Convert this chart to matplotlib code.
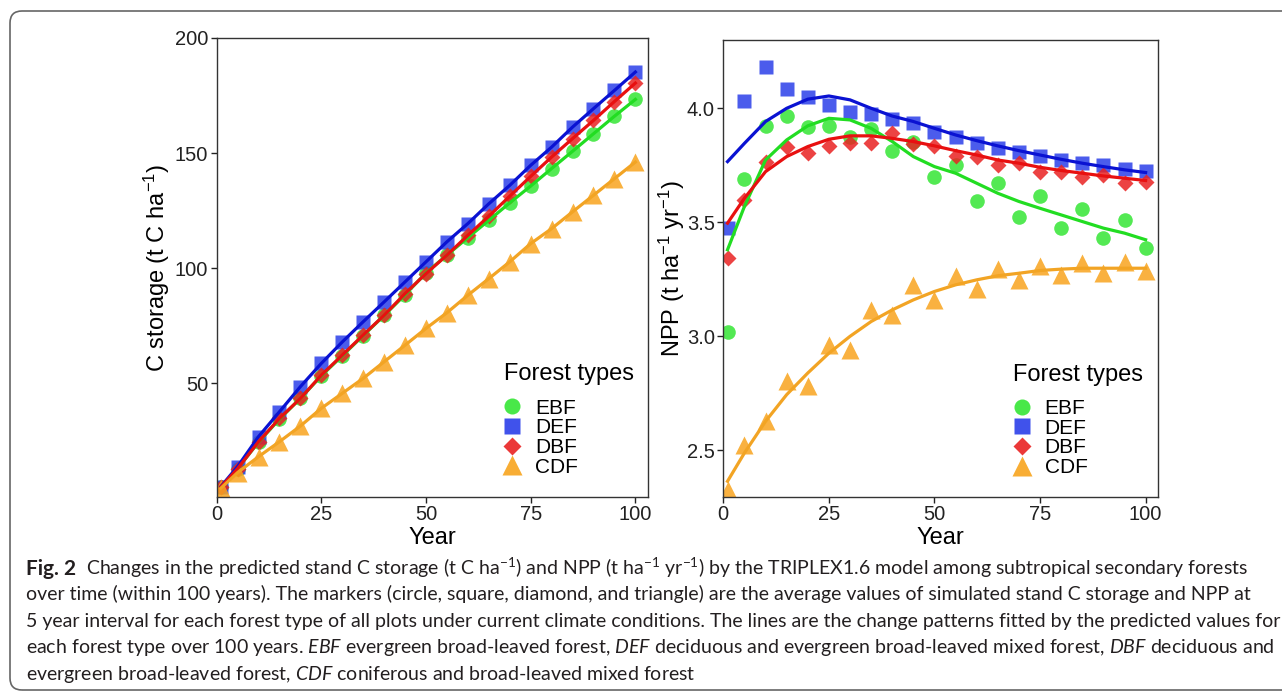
import matplotlib
matplotlib.use('Agg')
import matplotlib.pyplot as plt
from matplotlib.patches import FancyBboxPatch
from matplotlib.transforms import IdentityTransform

# ---- data ----
years = [1, 5, 10, 15, 20, 25, 30, 35, 40, 45, 50, 55, 60, 65, 70, 75, 80, 85, 90, 95, 100]
forest_types = ['EBF', 'DEF', 'DBF', 'CDF']

# stand C storage (t C ha-1)
c_ebf = [5.0, 13.0, 24.5, 34.5, 43.5, 53.3, 62.0, 70.8, 79.5, 88.5, 98.0, 105.7, 113.3,
         120.8, 128.4, 135.7, 143.3, 150.8, 158.4, 166.0, 173.3]
c_def = [5.2, 13.9, 26.9, 37.7, 48.6, 58.7, 68.0, 76.8, 85.4, 94.1, 102.8, 111.5, 119.4,
         128.0, 136.0, 144.7, 152.6, 161.3, 169.3, 177.2, 185.2]
c_dbf = [5.0, 13.0, 24.7, 34.8, 43.5, 53.6, 62.3, 71.0, 79.6, 89.0, 97.7, 105.7, 114.3,
         122.6, 131.3, 139.9, 148.3, 156.3, 164.2, 172.4, 180.4]
c_cdf = [4.5, 11.3, 18.2, 24.7, 31.5, 39.2, 45.7, 52.2, 59.4, 66.6, 73.9, 80.7, 88.3,
         95.5, 102.8, 110.7, 117.2, 124.5, 131.7, 138.9, 146.1]

# NPP (t ha-1 yr-1), simulated averages
npp_ebf = [3.016, 3.69, 3.923, 3.966, 3.917, 3.923, 3.876, 3.908, 3.813, 3.85, 3.697,
           3.751, 3.594, 3.674, 3.525, 3.613, 3.474, 3.558, 3.43, 3.51, 3.386]
npp_def = [3.474, 4.032, 4.18, 4.083, 4.048, 4.015, 3.985, 3.975, 3.952, 3.937, 3.898,
           3.873, 3.846, 3.825, 3.81, 3.79, 3.773, 3.759, 3.749, 3.734, 3.725]
npp_dbf = [3.342, 3.598, 3.766, 3.829, 3.803, 3.835, 3.849, 3.846, 3.89, 3.843, 3.835,
           3.791, 3.788, 3.751, 3.759, 3.722, 3.722, 3.70, 3.708, 3.671, 3.678]
npp_cdf = [2.326, 2.523, 2.626, 2.801, 2.779, 2.962, 2.94, 3.113, 3.094, 3.225, 3.159,
           3.262, 3.206, 3.294, 3.247, 3.306, 3.269, 3.323, 3.276, 3.327, 3.284]

# NPP fitted curves
fit_ebf = [3.379, 3.569, 3.773, 3.861, 3.923, 3.956, 3.949, 3.912, 3.854, 3.788, 3.744,
           3.715, 3.671, 3.627, 3.591, 3.561, 3.532, 3.503, 3.474, 3.452, 3.423]
fit_def = [3.766, 3.846, 3.942, 4.0, 4.04, 4.054, 4.037, 4.0, 3.966, 3.942, 3.912,
           3.883, 3.858, 3.835, 3.814, 3.795, 3.776, 3.759, 3.744, 3.73, 3.718]
fit_dbf = [3.496, 3.605, 3.722, 3.788, 3.832, 3.864, 3.879, 3.879, 3.868, 3.854, 3.835,
           3.814, 3.795, 3.773, 3.759, 3.741, 3.727, 3.715, 3.703, 3.693, 3.683]
fit_cdf = [2.363, 2.487, 2.626, 2.743, 2.838, 2.925, 2.999, 3.064, 3.115, 3.159, 3.196,
           3.225, 3.247, 3.265, 3.276, 3.288, 3.294, 3.298, 3.298, 3.298, 3.298]

fig_label = 'Fig. 2'
caption_lines = [
    r'Changes in the predicted stand C storage (t C ha$^{-1}$) and NPP (t ha$^{-1}$ yr$^{-1}$) '
    r'by the TRIPLEX1.6 model among subtropical secondary forests',
    'over time (within 100 years). The markers (circle, square, diamond, and triangle) are the average values '
    'of simulated stand C storage and NPP at',
    '5 year interval for each forest type of all plots under current climate conditions. The lines are the change '
    'patterns fitted by the predicted values for',
    r'each forest type over 100 years. $\mathit{EBF}$ evergreen broad-leaved forest, $\mathit{DEF}$ deciduous and '
    r'evergreen broad-leaved mixed forest, $\mathit{DBF}$ deciduous and',
    r'evergreen broad-leaved forest, $\mathit{CDF}$ coniferous and broad-leaved mixed forest',
]

# ---- styles ----
markers = {'EBF': 'o', 'DEF': 's', 'DBF': 'D', 'CDF': '^'}
msizes = {'EBF': 10.5, 'DEF': 10, 'DBF': 8.5, 'CDF': 13}
point_cols = {'EBF': '#35e635', 'DEF': '#2b3fe9', 'DBF': '#e92222', 'CDF': '#f8a41e'}
line_cols = {'EBF': '#22dd22', 'DEF': '#0a12d2', 'DBF': '#e81010', 'CDF': '#f2a424'}

plt.rcParams['font.family'] = ['Liberation Sans', 'DejaVu Sans']
plt.rcParams['mathtext.default'] = 'regular'
plt.rcParams['mathtext.fontset'] = 'custom'
plt.rcParams['mathtext.it'] = 'Lato:italic'
plt.rcParams['mathtext.bf'] = 'Lato:bold'
plt.rcParams['mathtext.rm'] = 'Lato'

fig = plt.figure(figsize=(12.82, 6.91), dpi=100)
ax1 = fig.add_axes([0.1690, 0.2808, 0.3364, 0.6643])
ax2 = fig.add_axes([0.5642, 0.2808, 0.3393, 0.6614])

c_data = {'EBF': c_ebf, 'DEF': c_def, 'DBF': c_dbf, 'CDF': c_cdf}
npp_data = {'EBF': npp_ebf, 'DEF': npp_def, 'DBF': npp_dbf, 'CDF': npp_cdf}
npp_fit = {'EBF': fit_ebf, 'DEF': fit_def, 'DBF': fit_dbf, 'CDF': fit_cdf}

for ft in forest_types:
    ax1.plot(years, c_data[ft], ls='none', marker=markers[ft], ms=msizes[ft],
             mfc=point_cols[ft], mec='none', alpha=0.85, label=ft, zorder=2)
    ax1.plot(years, c_data[ft], color=line_cols[ft], lw=2.3, zorder=3)
    ax2.plot(years, npp_data[ft], ls='none', marker=markers[ft], ms=msizes[ft],
             mfc=point_cols[ft], mec='none', alpha=0.85, label=ft, zorder=2)
    ax2.plot(years, npp_fit[ft], color=line_cols[ft], lw=2.3, zorder=3)

ax1.set_xlim(0, 103)
ax1.set_ylim(0.7, 200)
ax1.set_yticks([50, 100, 150, 200])
ax1.set_ylabel('C storage (t C ha$^{-1}$)', fontsize=17, labelpad=2)

ax2.set_xlim(0, 103)
ax2.set_ylim(2.294, 4.30)
ax2.set_yticks([2.5, 3.0, 3.5, 4.0])
ax2.set_yticklabels(['2.5', '3.0', '3.5', '4.0'])
ax2.set_ylabel('NPP (t ha$^{-1}$ yr$^{-1}$)', fontsize=17, labelpad=0)

for ax in (ax1, ax2):
    ax.set_xticks([0, 25, 50, 75, 100])
    ax.set_xlabel('Year', fontsize=17, labelpad=2)
    ax.tick_params(direction='out', length=4, width=1, labelsize=14.5, pad=2, colors='#222222')
    for sp in ax.spines.values():
        sp.set_color('#333333')
        sp.set_linewidth(1.0)
    # legend title as its own text so the gap below it can match
    ax.text(0.667, 0.267, 'Forest types', transform=ax.transAxes, fontsize=17,
            ha='left', va='center')
    leg = ax.legend(loc='upper left', bbox_to_anchor=(0.657, 0.214),
                    frameon=False, fontsize=15, markerscale=1.1,
                    labelspacing=0.03, handletextpad=0.5, handlelength=1.2,
                    borderaxespad=0, borderpad=0)
    for h in leg.legend_handles:
        h.set_alpha(0.9)

# caption
baselines = [575, 600, 627, 653, 680]
renderer = fig.canvas.get_renderer()
x0 = 26 / 1282
lab = fig.text(x0, 1 - baselines[0] / 691, fig_label, fontsize=15, family='Lato',
               weight='bold', va='baseline', ha='left', color='#231f20')
lab_w = lab.get_window_extent(renderer).width / 1282
for i, (txt, yb) in enumerate(zip(caption_lines, baselines)):
    x = x0 + lab_w + 10 / 1282 if i == 0 else x0
    fig.text(x, 1 - yb / 691, txt, fontsize=14, family='Lato',
             va='baseline', ha='left', color='#231f20')

# rounded frame around the figure panel
frame = FancyBboxPatch((10, 1), 1300, 679, boxstyle='round,pad=0,rounding_size=12',
                       transform=IdentityTransform(), fill=False, ec='#666666', lw=1.2)
fig.add_artist(frame)

fig.savefig('out.png', dpi=100)
